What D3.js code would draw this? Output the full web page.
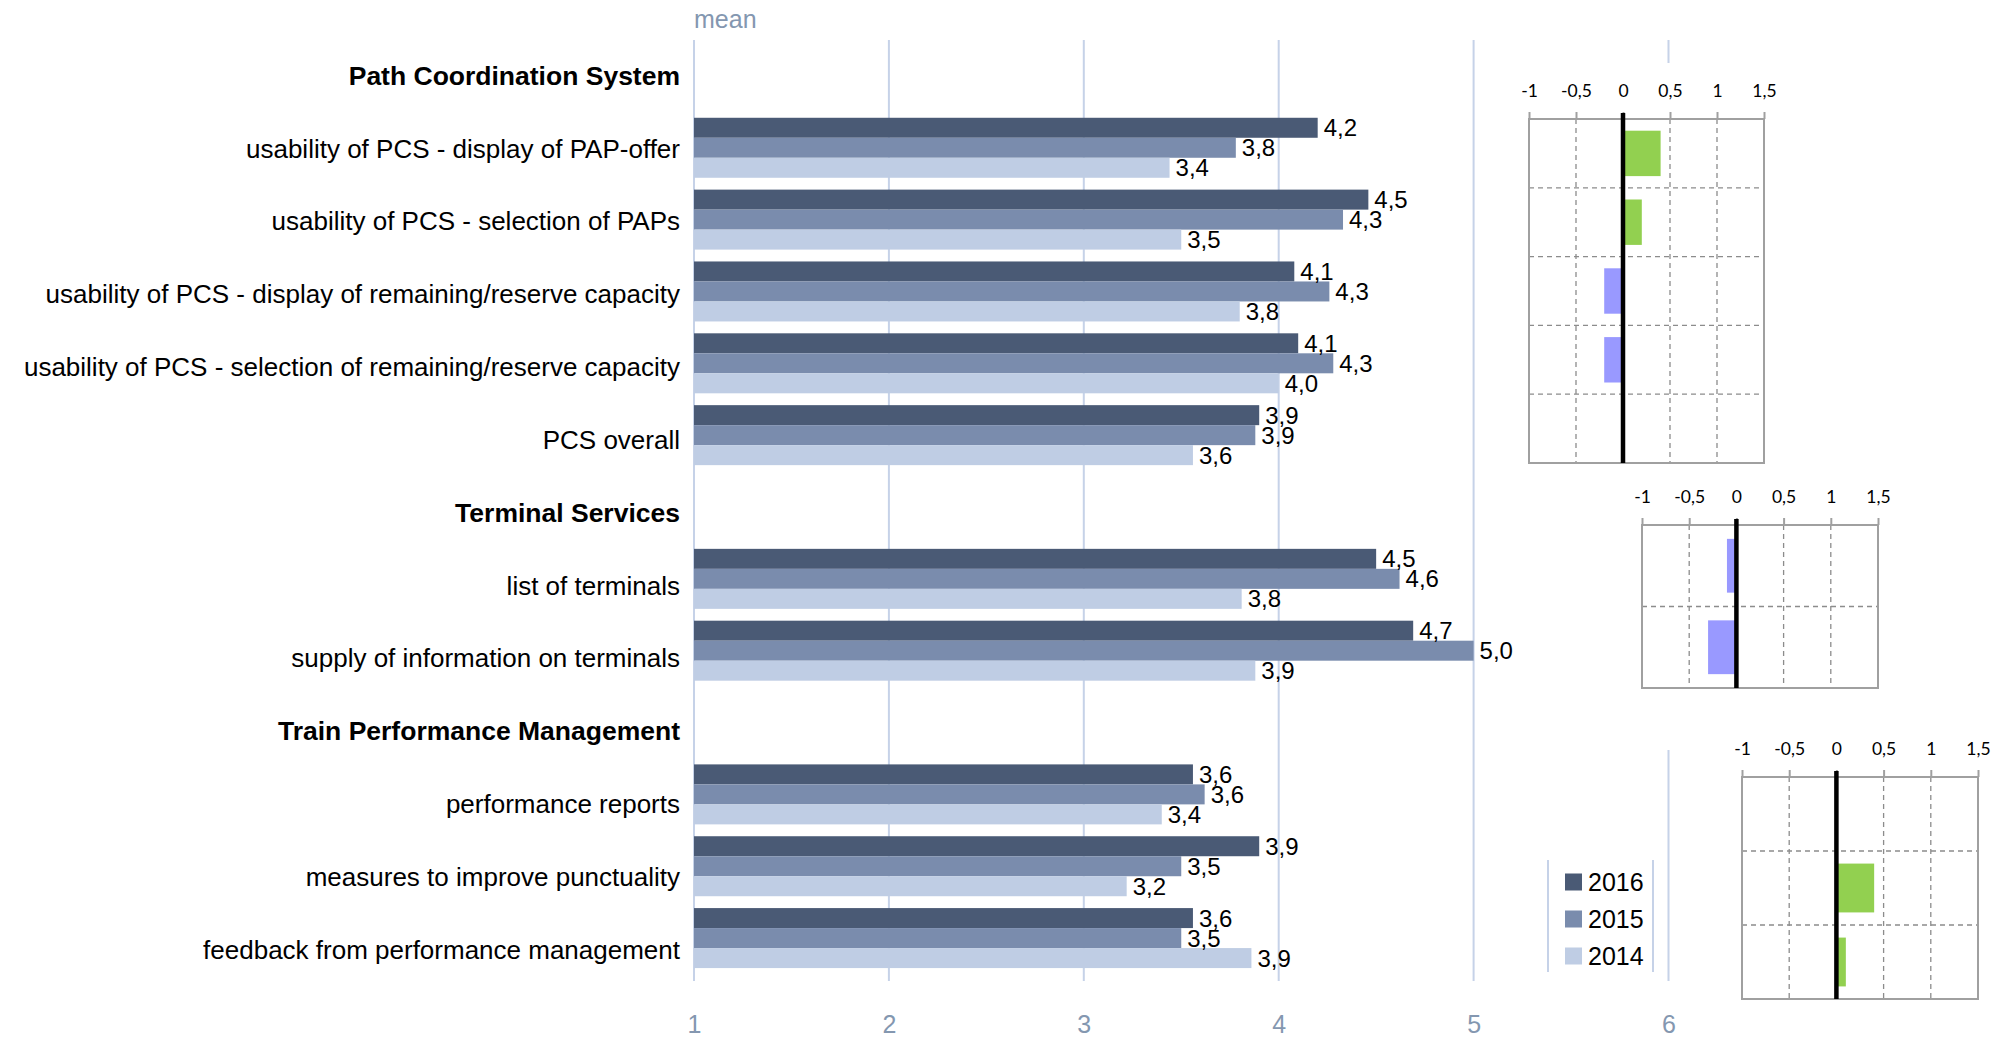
<!DOCTYPE html>
<html><head><meta charset="utf-8">
<script src="https://cdn.jsdelivr.net/npm/d3@7"></script>
<style>body{margin:0;background:#fff;} svg{display:block;}</style>
</head><body><svg id="c" width="1997" height="1038"></svg>
<script>
// ---------------- data ----------------
const rows = [
  "Path Coordination System",
  "usability of PCS - display of PAP-offer",
  "usability of PCS - selection of PAPs",
  "usability of PCS - display of remaining/reserve capacity",
  "usability of PCS - selection of remaining/reserve capacity",
  "PCS overall",
  "Terminal Services",
  "list of terminals",
  "supply of information on terminals",
  "Train Performance Management",
  "performance reports",
  "measures to improve punctuality",
  "feedback from performance management"
];
const headers = ["Path Coordination System", "Terminal Services", "Train Performance Management"];
const categories = [
  "usability of PCS - display of PAP-offer",
  "usability of PCS - selection of PAPs",
  "usability of PCS - display of remaining/reserve capacity",
  "usability of PCS - selection of remaining/reserve capacity",
  "PCS overall",
  "list of terminals",
  "supply of information on terminals",
  "performance reports",
  "measures to improve punctuality",
  "feedback from performance management"
];
const years = ["2016", "2015", "2014"];
const values2016 = [4.20, 4.46, 4.08, 4.10, 3.90, 4.50, 4.69, 3.56, 3.90, 3.56];
const values2015 = [3.78, 4.33, 4.26, 4.28, 3.88, 4.62, 5.00, 3.62, 3.50, 3.50];
const values2014 = [3.44, 3.50, 3.80, 4.00, 3.56, 3.81, 3.88, 3.40, 3.22, 3.86];
const xTicks = [1, 2, 3, 4, 5, 6];
const axisTitle = "mean";

const diffPCS = [0.4, 0.2, -0.2, -0.2, 0];
const diffTerminals = [-0.1, -0.3];
const diffTPM = [0, 0.4, 0.1];
const diffTicks = [-1, -0.5, 0, 0.5, 1, 1.5];

// ---------------- styles ----------------
const colors = {"2016": "#4a5a75", "2015": "#7a8cad", "2014": "#bfcde4"};
const gridColor = "#c6d2e8";
const slate = "#8497b0";
const mainFont = "'Liberation Sans', Arial, sans-serif";
const insetFont = "Lato, 'Open Sans', sans-serif";
const seriesValues = {"2016": values2016, "2015": values2015, "2014": values2014};
const fmt = v => d3.format(".1f")(v).replace(".", ",");

const svg = d3.select("#c");

// ---------------- main chart ----------------
const x = d3.scaleLinear().domain([1, 6]).range([694, 1668.5]);
const yRow = d3.scaleBand().domain(d3.range(rows.length)).range([40, 974])
  .paddingInner(0.165).paddingOuter(0.0825);
const ySeries = d3.scaleBand().domain(years).range([0, yRow.bandwidth()]);
const yLabel = d3.scalePoint().domain(d3.range(rows.length)).range([76, 950]);

// gridlines
svg.append("g").selectAll("line").data(xTicks).join("line")
  .attr("x1", d => x(d)).attr("x2", d => x(d))
  .attr("y1", 40).attr("y2", 981)
  .attr("stroke", gridColor).attr("stroke-width", 2);

// axis title
svg.append("text").attr("x", x(1)).attr("y", 28)
  .attr("font-family", mainFont).attr("font-size", 25).attr("fill", slate)
  .text(axisTitle);

// bottom axis
const xAxis = svg.append("g").attr("transform", "translate(0,1012)")
  .call(d3.axisBottom(x).tickValues(xTicks).tickSize(0).tickPadding(3).tickFormat(d3.format("d")));
xAxis.select(".domain").remove();
xAxis.selectAll("text").attr("font-family", mainFont).attr("font-size", 25).attr("fill", slate);

// left labels
const yAxis = svg.append("g").attr("transform", "translate(680,0)")
  .call(d3.axisLeft(yLabel).tickSize(0).tickPadding(0).tickFormat(i => rows[i]));
yAxis.select(".domain").remove();
yAxis.selectAll("text")
  .attr("font-family", mainFont).attr("fill", "#000")
  .attr("font-size", i => headers.includes(rows[i]) ? 26.5 : 26)
  .attr("font-weight", i => headers.includes(rows[i]) ? "bold" : "normal");

// bars
const barData = [];
categories.forEach((c, i) => {
  years.forEach(yr => barData.push({cat: c, row: rows.indexOf(c), year: yr, value: seriesValues[yr][i]}));
});
svg.append("g").selectAll("rect").data(barData).join("rect")
  .attr("x", x(1))
  .attr("y", d => yRow(d.row) + ySeries(d.year))
  .attr("width", d => x(d.value) - x(1))
  .attr("height", ySeries.bandwidth())
  .attr("fill", d => colors[d.year]);

svg.append("g").selectAll("text").data(barData).join("text")
  .attr("x", d => x(d.value) + 6)
  .attr("y", d => yRow(d.row) + ySeries(d.year) + ySeries.bandwidth() / 2)
  .attr("dy", "0.36em")
  .attr("font-family", mainFont).attr("font-size", 24).attr("fill", "#000")
  .text(d => fmt(d.value));

// ---------------- legend ----------------
const legend = svg.append("g");
legend.selectAll("line").data([1548, 1653]).join("line")
  .attr("x1", d => d).attr("x2", d => d).attr("y1", 860).attr("y2", 972)
  .attr("stroke", gridColor).attr("stroke-width", 2);
const legY = d3.scalePoint().domain(years).range([882, 956]);
legend.selectAll("rect").data(years).join("rect")
  .attr("x", 1565).attr("y", d => legY(d) - 8.5).attr("width", 17).attr("height", 17)
  .attr("fill", d => colors[d]);
legend.selectAll("text").data(years).join("text")
  .attr("x", 1588).attr("y", d => legY(d)).attr("dy", "0.36em")
  .attr("font-family", mainFont).attr("font-size", 25).attr("fill", "#000")
  .text(d => d);

// ---------------- insets ----------------
function inset(vals, cfg) {
  const g = svg.append("g");
  g.append("rect").attr("x", cfg.bx0).attr("y", cfg.by0)
    .attr("width", cfg.bx1 - cfg.bx0).attr("height", cfg.by1 - cfg.by0).attr("fill", "#fff");
  const xs = d3.scaleLinear().domain([-1, 1.5]).range([cfg.x0, cfg.x1]);
  const ys = d3.scaleBand().domain(d3.range(vals.length)).range([cfg.top, cfg.bottom])
    .paddingInner(0.34).paddingOuter(0.17);
  const step = ys.step();
  // dashed verticals
  g.selectAll(".vg").data(diffTicks.filter(t => t > -1 && t < 1.5)).join("line")
    .attr("x1", d => xs(d)).attr("x2", d => xs(d)).attr("y1", cfg.top).attr("y2", cfg.bottom)
    .attr("stroke", "#8c8c8c").attr("stroke-width", 1.3).attr("stroke-dasharray", "5,4");
  // dashed horizontals
  g.selectAll(".hg").data(d3.range(1, vals.length)).join("line")
    .attr("x1", cfg.x0).attr("x2", cfg.x1)
    .attr("y1", d => cfg.top + d * step).attr("y2", d => cfg.top + d * step)
    .attr("stroke", "#8c8c8c").attr("stroke-width", 1.3).attr("stroke-dasharray", "5,4");
  // bars
  g.selectAll(".bar").data(vals).join("rect")
    .attr("x", d => xs(Math.min(0, d)))
    .attr("y", (d, i) => ys(i))
    .attr("width", d => Math.abs(xs(d) - xs(0)))
    .attr("height", ys.bandwidth())
    .attr("fill", d => d >= 0 ? "#92d050" : "#9999ff");
  // box
  g.append("rect").attr("x", cfg.x0).attr("y", cfg.top)
    .attr("width", cfg.x1 - cfg.x0).attr("height", cfg.bottom - cfg.top)
    .attr("fill", "none").attr("stroke", "#a0a0a0").attr("stroke-width", 2);
  // axis on top
  const ax = g.append("g").attr("transform", `translate(0,${cfg.top})`)
    .call(d3.axisTop(xs).tickValues(diffTicks).tickSize(7).tickPadding(cfg.pad)
      .tickFormat(d => String(d).replace(".", ",")));
  ax.select(".domain").remove();
  ax.selectAll(".tick line").attr("stroke", "#a0a0a0").attr("stroke-width", 2);
  ax.selectAll("text").attr("font-family", insetFont).attr("font-size", 17.5).attr("fill", "#000");
  // zero line
  g.append("line").attr("x1", xs(0)).attr("x2", xs(0))
    .attr("y1", cfg.top - 6).attr("y2", cfg.bottom)
    .attr("stroke", "#000").attr("stroke-width", 4.5);
}

inset(diffPCS, {x0: 1529, x1: 1764, top: 119, bottom: 463, pad: 15,
  bx0: 1500, bx1: 1790, by0: 63, by1: 470});
inset(diffTerminals, {x0: 1642, x1: 1878, top: 525, bottom: 688, pad: 15,
  bx0: 1615, bx1: 1900, by0: 470, by1: 750});
inset(diffTPM, {x0: 1742, x1: 1978, top: 777, bottom: 999, pad: 15,
  bx0: 1715, bx1: 1997, by0: 725, by1: 1030});
</script>
</body></html>
